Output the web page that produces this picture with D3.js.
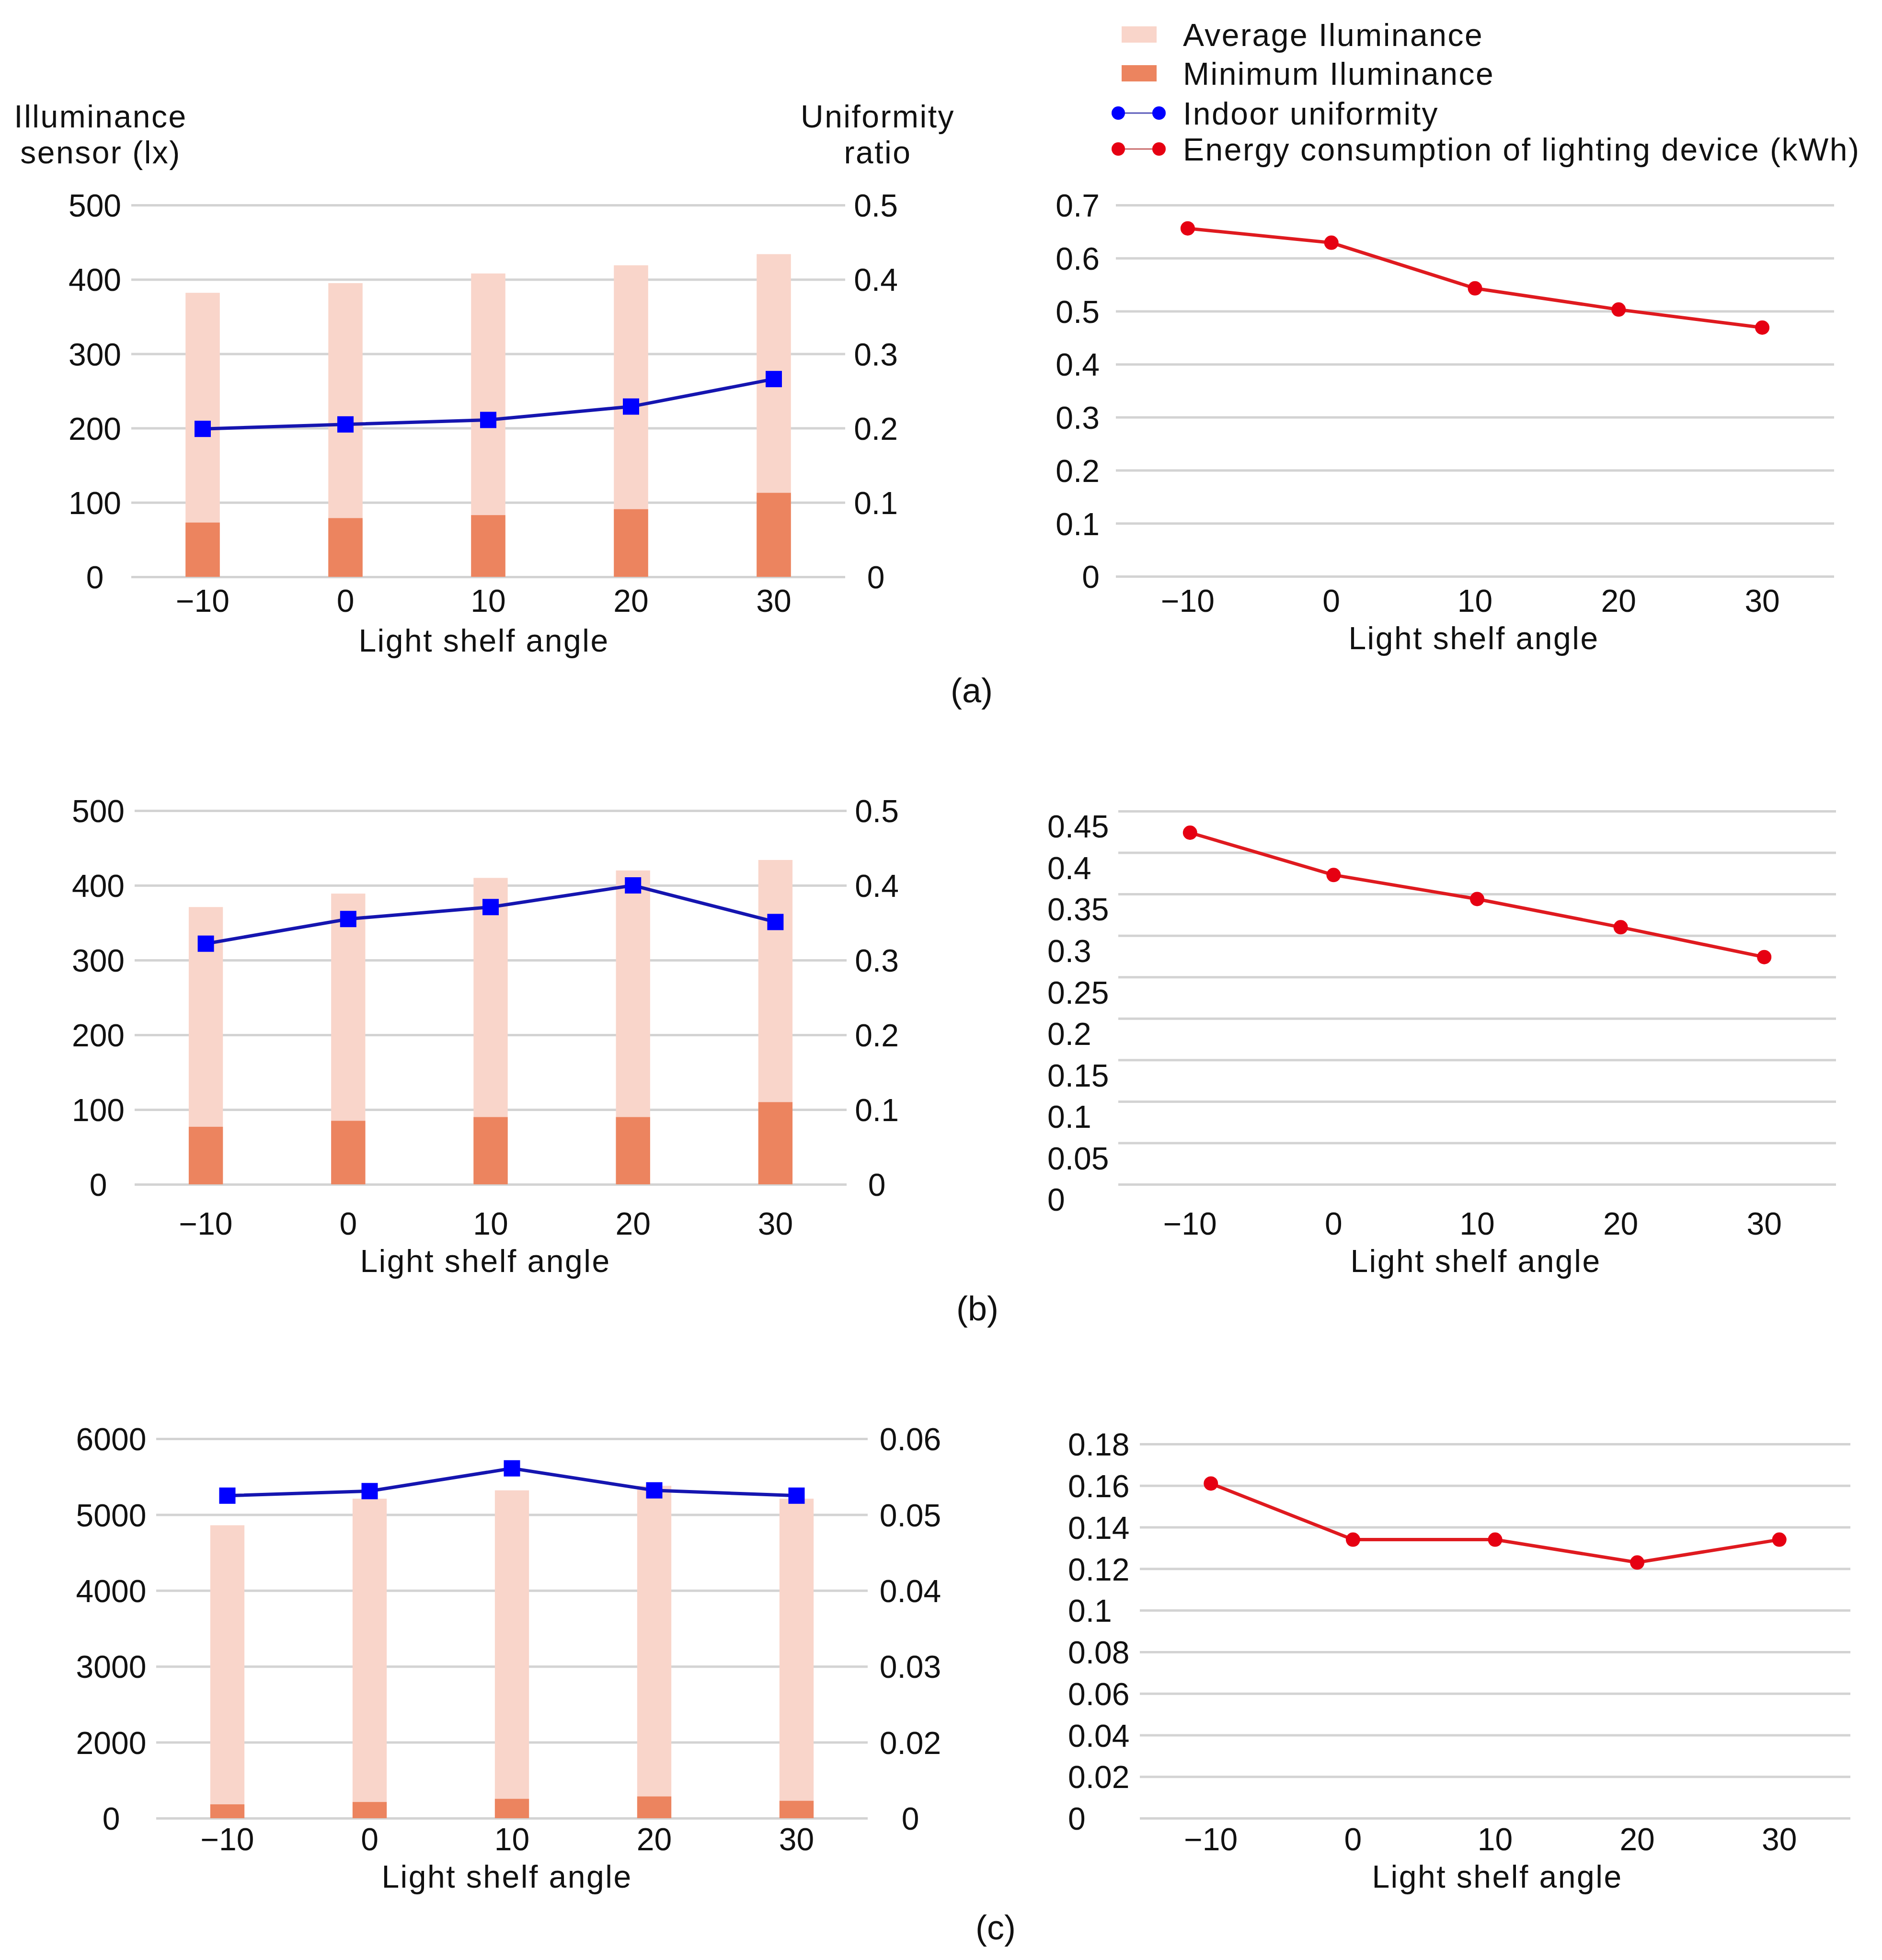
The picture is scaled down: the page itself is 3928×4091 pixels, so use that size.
<!DOCTYPE html>
<html>
<head>
<meta charset="utf-8">
<script src="https://cdn.jsdelivr.net/npm/d3@7"></script>
<style>
  body { margin: 0; background: #fff; }
  text { font-family: "Liberation Sans", Arial, sans-serif; fill: #111; }
  .word { letter-spacing: 2.5px; }
</style>
</head>
<body>
<div id="chart"></div>
<script>
// light shelf angle (x categories)
var angles = [-10, 0, 10, 20, 30];

// (a)
var avgA = [382, 395, 408, 419, 434];
var minA = [73, 79, 83, 91, 113];
var uniA = [0.199, 0.205, 0.211, 0.229, 0.266];
var energyA = [0.656, 0.629, 0.543, 0.503, 0.469];
// (b)
var avgB = [371, 389, 410, 420, 434];
var minB = [77, 85, 90, 90, 110];
var uniB = [0.322, 0.355, 0.371, 0.400, 0.351];
var energyB = [0.424, 0.373, 0.344, 0.310, 0.274];
// (c)
var avgC = [4860, 5210, 5320, 5380, 5210];
var minC = [365, 427, 510, 573, 458];
var uniC = [0.0525, 0.0531, 0.0561, 0.0532, 0.0525];
var energyC = [0.161, 0.134, 0.134, 0.123, 0.134];

// tick labels
var luxTicksAB = [0, 100, 200, 300, 400, 500];
var uniTicksAB = [0, 0.1, 0.2, 0.3, 0.4, 0.5];
var luxTicksC = [0, 2000, 3000, 4000, 5000, 6000];
var uniTicksC = [0, 0.02, 0.03, 0.04, 0.05, 0.06];
var energyTicksA = [0, 0.1, 0.2, 0.3, 0.4, 0.5, 0.6, 0.7];
var energyTicksB = [0, 0.05, 0.1, 0.15, 0.2, 0.25, 0.3, 0.35, 0.4, 0.45];
var energyTicksC = [0, 0.02, 0.04, 0.06, 0.08, 0.1, 0.12, 0.14, 0.16, 0.18];

var legendNames = ['Average Iluminance', 'Minimum Iluminance', 'Indoor uniformity',
                   'Energy consumption of lighting device (kWh)'];

var colAvg = '#f9d5ca', colMin = '#ec845f';
var colBlue = '#0000ff', colBlueLine = '#1515b0';
var colRed = '#e60012', colRedLine = '#df1a1f';
var colGrid = '#d3d3d3';
var FS = 66;
var FONT = '"Liberation Sans", Arial, sans-serif';

var width = 3928, height = 4091;
var svg = d3.select('#chart').append('svg')
    .attr('width', width).attr('height', height);
svg.append('rect').attr('width', width).attr('height', height).attr('fill', '#fff');

var fmtTick = function (d) { return String(+d.toFixed(3)); };

function grid(g, y, ticks, x0, x1) {
    g.append('g')
        .attr('transform', 'translate(' + x0 + ',0)')
        .call(d3.axisRight(y).tickValues(ticks).tickSize(x1 - x0).tickFormat(''))
        .call(function (s) { s.select('.domain').remove(); })
        .selectAll('line')
        .attr('stroke', colGrid).attr('stroke-width', 5);
}

function yLabels(g, y, ticks, x, anchor, dy) {
    var ax = g.append('g')
        .attr('transform', 'translate(' + x + ',0)')
        .call(d3.axisLeft(y).tickValues(ticks).tickSize(0).tickPadding(0).tickFormat(fmtTick));
    ax.select('.domain').remove();
    ax.selectAll('text')
        .attr('x', 0)
        .attr('dy', dy || '0.36em')
        .attr('text-anchor', anchor)
        .style('font-size', FS + 'px')
        .style('font-family', FONT)
        .attr('fill', '#111');
}

function xLabels(g, x, cy, titleX, titleY) {
    var ax = g.append('g')
        .attr('transform', 'translate(0,' + cy + ')')
        .call(d3.axisBottom(x).tickSize(0).tickPadding(0).tickFormat(d3.format('d')));
    ax.select('.domain').remove();
    ax.selectAll('text')
        .attr('y', 0).attr('dy', '0.36em')
        .style('font-size', FS + 'px')
        .style('font-family', FONT)
        .attr('fill', '#111');
    g.append('text')
        .attr('class', 'word')
        .attr('x', titleX).attr('y', titleY)
        .attr('text-anchor', 'middle')
        .style('font-size', FS + 'px')
        .text('Light shelf angle');
}

function drawBarPanel(p, avg, min, uni) {
    var g = svg.append('g');
    var x = d3.scaleBand().domain(angles).range([p.x0, p.x1]);
    var h = p.yBot - p.yTop;
    var yL, yR;
    if (p.broken) {
        // axis as drawn: 0 -> 2000 takes one grid step, then 1000 per step
        yL = d3.scaleLinear().domain([0, 2000, 6000]).range([p.yBot, p.yBot - h / 5, p.yTop]);
        yR = d3.scaleLinear().domain([0, 0.02, 0.06]).range([p.yBot, p.yBot - h / 5, p.yTop]);
    } else {
        yL = d3.scaleLinear().domain([0, 500]).range([p.yBot, p.yTop]);
        yR = d3.scaleLinear().domain([0, 0.5]).range([p.yBot, p.yTop]);
    }
    grid(g, yL, p.lTicks, p.x0, p.x1);

    var bw = x.bandwidth() * 0.24;
    var cx = function (i) { return x(angles[i]) + x.bandwidth() / 2; };

    g.append('g').selectAll('rect')
        .data(avg).enter().append('rect')
        .attr('x', function (d, i) { return cx(i) - bw / 2; })
        .attr('y', function (d) { return yL(d); })
        .attr('width', bw)
        .attr('height', function (d) { return yL(0) - yL(d); })
        .attr('fill', colAvg);
    g.append('g').selectAll('rect')
        .data(min).enter().append('rect')
        .attr('x', function (d, i) { return cx(i) - bw / 2; })
        .attr('y', function (d) { return yL(d); })
        .attr('width', bw)
        .attr('height', function (d) { return yL(0) - yL(d); })
        .attr('fill', colMin);

    var line = d3.line()
        .x(function (d, i) { return cx(i); })
        .y(function (d) { return yR(d); });
    g.append('path').datum(uni)
        .attr('d', line)
        .attr('fill', 'none')
        .attr('stroke', colBlueLine)
        .attr('stroke-width', 7);
    g.append('g').selectAll('rect')
        .data(uni).enter().append('rect')
        .attr('x', function (d, i) { return cx(i) - 17; })
        .attr('y', function (d) { return yR(d) - 17; })
        .attr('width', 34).attr('height', 34)
        .attr('fill', colBlue);

    yLabels(g, yL, p.lTicks, p.lblL, 'middle');
    yLabels(g, yR, p.rTicks, p.lblR, 'middle');
    xLabels(g, x, p.tickY, p.titleX, p.titleY);
}

function drawLinePanel(p, energy) {
    var g = svg.append('g');
    var x = d3.scaleBand().domain(angles).range([p.x0, p.x1]);
    var y = d3.scaleLinear().domain([0, p.max]).range([p.yBot, p.yTop]);
    grid(g, y, p.ticks, p.x0, p.x1);
    var cx = function (i) { return x(angles[i]) + x.bandwidth() / 2; };

    var line = d3.line()
        .x(function (d, i) { return cx(i); })
        .y(function (d) { return y(d); });
    g.append('path').datum(energy)
        .attr('d', line)
        .attr('fill', 'none')
        .attr('stroke', colRedLine)
        .attr('stroke-width', 7);
    g.append('g').selectAll('circle')
        .data(energy).enter().append('circle')
        .attr('cx', function (d, i) { return cx(i); })
        .attr('cy', function (d) { return y(d); })
        .attr('r', 15)
        .attr('fill', colRed);

    yLabels(g, y, p.ticks, p.lbl, p.anchor, p.dy);
    xLabels(g, x, p.tickY, p.titleX, p.titleY);
}

// panels
drawBarPanel({x0: 274, x1: 1764, yTop: 428, yBot: 1204, lblL: 198, lblR: 1828,
    lTicks: luxTicksAB, rTicks: uniTicksAB, tickY: 1253, titleX: 1010, titleY: 1360}, avgA, minA, uniA);
drawLinePanel({x0: 2329, x1: 3828, yTop: 428, yBot: 1203, max: 0.7, ticks: energyTicksA,
    lbl: 2295, anchor: 'end', tickY: 1253, titleX: 3076, titleY: 1355}, energyA);

drawBarPanel({x0: 281, x1: 1767, yTop: 1692, yBot: 2472, lblL: 205, lblR: 1830,
    lTicks: luxTicksAB, rTicks: uniTicksAB, tickY: 2553, titleX: 1013, titleY: 2655}, avgB, minB, uniB);
drawLinePanel({x0: 2334, x1: 3832, yTop: 1693, yBot: 2472, max: 0.45, ticks: energyTicksB,
    lbl: 2186, anchor: 'start', dy: '0.83em', tickY: 2553, titleX: 3080, titleY: 2655}, energyB);

drawBarPanel({x0: 326, x1: 1811, yTop: 3003, yBot: 3795, lblL: 232, lblR: 1900, broken: true,
    lTicks: luxTicksC, rTicks: uniTicksC, tickY: 3838, titleX: 1058, titleY: 3940}, avgC, minC, uniC);
drawLinePanel({x0: 2379, x1: 3862, yTop: 3014, yBot: 3795, max: 0.18, ticks: energyTicksC,
    lbl: 2229, anchor: 'start', tickY: 3838, titleX: 3125, titleY: 3940}, energyC);

// axis titles of (a)
function twoLines(x, lines) {
    svg.append('text')
        .attr('class', 'word')
        .attr('text-anchor', 'middle')
        .style('font-size', FS + 'px')
        .selectAll('tspan')
        .data(lines).enter().append('tspan')
        .attr('x', x)
        .attr('y', function (d, i) { return 266 + i * 75; })
        .text(function (d) { return d; });
}
twoLines(210, ['Illuminance', 'sensor (lx)']);
twoLines(1832, ['Uniformity', 'ratio']);

// panel letters
[['(a)', 2028, 1466], ['(b)', 2040, 2756], ['(c)', 2078, 4048]].forEach(function (d) {
    svg.append('text')
        .attr('x', d[1]).attr('y', d[2])
        .attr('text-anchor', 'middle')
        .style('font-size', '72px')
        .text(d[0]);
});

// legend
var legend = svg.append('g');
var rowY = [72, 153, 236, 311];
legend.selectAll('rect')
    .data([colAvg, colMin]).enter().append('rect')
    .attr('x', 2341)
    .attr('y', function (d, i) { return rowY[i] - 17; })
    .attr('width', 73).attr('height', 34)
    .attr('fill', function (d) { return d; });
[[colBlue, '#5656b8'], [colRed, '#c86a6a']].forEach(function (c, i) {
    var yy = rowY[i + 2];
    legend.append('line')
        .attr('x1', 2334).attr('x2', 2419)
        .attr('y1', yy).attr('y2', yy)
        .attr('stroke', c[1]).attr('stroke-width', 3);
    legend.selectAll(null)
        .data([2334, 2419]).enter().append('circle')
        .attr('cx', function (d) { return d; })
        .attr('cy', yy)
        .attr('r', 14)
        .attr('fill', c[0]);
});
legend.selectAll('text')
    .data(legendNames).enter().append('text')
    .attr('class', 'word')
    .attr('x', 2469)
    .attr('y', function (d, i) { return rowY[i] + 24; })
    .style('font-size', FS + 'px')
    .text(function (d) { return d; });
</script>
</body>
</html>
